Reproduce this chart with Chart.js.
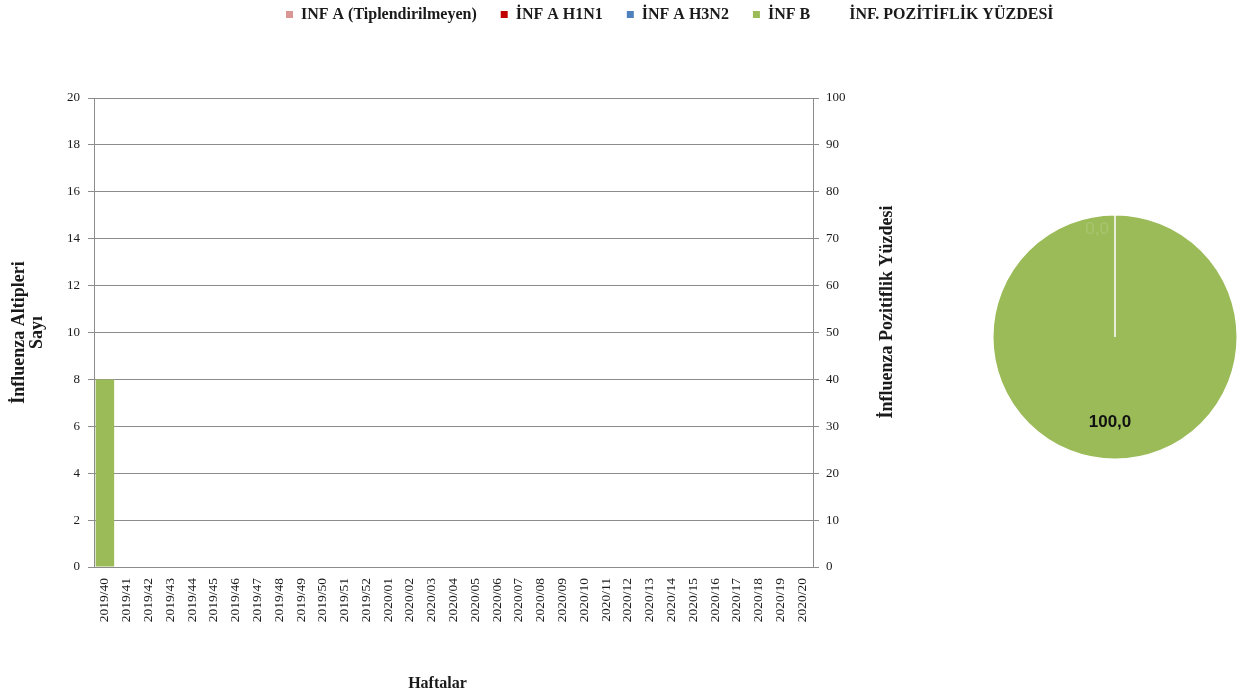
<!DOCTYPE html>
<html lang="tr">
<head>
<meta charset="utf-8">
<script src="https://cdn.jsdelivr.net/npm/chart.js@4.4.1/dist/chart.umd.min.js"></script>
<style>
  html, body { margin: 0; padding: 0; background: #fff; }
  #wrap { position: relative; width: 1244px; height: 695px; overflow: hidden; }
  #main { position: absolute; left: 0; top: 0; }
  #pie { position: absolute; left: 985px; top: 205px; }
</style>
</head>
<body>
<div id="wrap">
  <canvas id="main" width="1244" height="695"></canvas>
  <canvas id="pie" width="260" height="264"></canvas>
</div>
<script>
// Weekly surveillance weeks (2019/40 – 2020/20)
const weeks = [
  '2019/40','2019/41','2019/42','2019/43','2019/44','2019/45','2019/46','2019/47',
  '2019/48','2019/49','2019/50','2019/51','2019/52','2020/01','2020/02','2020/03',
  '2020/04','2020/05','2020/06','2020/07','2020/08','2020/09','2020/10','2020/11',
  '2020/12','2020/13','2020/14','2020/15','2020/16','2020/17','2020/18','2020/19','2020/20'
];

// Subtype counts per week
const infAUntyped = [0,0,0,0,0,0,0,0,0,0,0,0,0,0,0,0,0,0,0,0,0,0,0,0,0,0,0,0,0,0,0,0,0];
const infAH1N1    = [0,0,0,0,0,0,0,0,0,0,0,0,0,0,0,0,0,0,0,0,0,0,0,0,0,0,0,0,0,0,0,0,0];
const infAH3N2    = [0,0,0,0,0,0,0,0,0,0,0,0,0,0,0,0,0,0,0,0,0,0,0,0,0,0,0,0,0,0,0,0,0];
const infB        = [8,0,0,0,0,0,0,0,0,0,0,0,0,0,0,0,0,0,0,0,0,0,0,0,0,0,0,0,0,0,0,0,0];

// Positivity percentage (no plotted values in this period)
const positivity  = [null,null,null,null,null,null,null,null,null,null,null,null,null,null,null,null,null,
                     null,null,null,null,null,null,null,null,null,null,null,null,null,null,null,null];

// Axis tick values
const countTicks   = [0, 2, 4, 6, 8, 10, 12, 14, 16, 18, 20];
const percentTicks = [0, 10, 20, 30, 40, 50, 60, 70, 80, 90, 100];

// Type distribution (percent)
const pieLabels = ['İNF A', 'İNF B'];
const pieValues = [0.0, 100.0];

const SERIF = '"Liberation Serif", "DejaVu Serif", serif';
const GRID = '#8c8c8c';
const TEXT = '#1a1a1a';

const fmt = v => v.toFixed(1).replace('.', ',');

// Places the legend row and draws the rotated right-axis title and the x-axis title
const layoutAndTitles = {
  id: 'layoutAndTitles',
  afterLayout(chart) {
    const lg = chart.legend;
    if (!lg) return;
    const labels = chart.options.plugins.legend.labels;
    const pad = labels.padding;
    const h = lg.height;
    lg.left = 286 - pad;
    lg.right = chart.width;
    lg.top = 14.5 - pad - labels.font.size / 2;
    lg.bottom = lg.top + h;
  },
  afterDraw(chart) {
    const ctx = chart.ctx;
    const y2 = chart.scales.y2;
    const area = chart.chartArea;
    ctx.save();
    ctx.fillStyle = TEXT;
    ctx.font = 'bold 18px ' + SERIF;
    ctx.textAlign = 'center';
    ctx.textBaseline = 'middle';
    ctx.translate(y2.right - 18, 312);
    ctx.rotate(-Math.PI / 2);
    ctx.fillText('İnfluenza Pozitiflik Yüzdesi', 0, 0);
    ctx.restore();

    ctx.save();
    ctx.fillStyle = TEXT;
    ctx.font = 'bold 16px ' + SERIF;
    ctx.textAlign = 'center';
    ctx.textBaseline = 'middle';
    ctx.fillText('Haftalar', (area.left + area.right) / 2 - 16, 684);
    ctx.restore();
  }
};

const mainChart = new Chart(document.getElementById('main'), {
  type: 'bar',
  data: {
    labels: weeks,
    datasets: [
      { label: 'INF A (Tiplendirilmeyen)', data: infAUntyped, backgroundColor: '#D99694', yAxisID: 'y', stack: 'flu' },
      { label: 'İNF A H1N1', data: infAH1N1, backgroundColor: '#C00000', yAxisID: 'y', stack: 'flu' },
      { label: 'İNF A H3N2', data: infAH3N2, backgroundColor: '#4F81BD', yAxisID: 'y', stack: 'flu' },
      { label: 'İNF B', data: infB, backgroundColor: '#9BBB59', yAxisID: 'y', stack: 'flu' },
      { type: 'line', label: 'İNF. POZİTİFLİK YÜZDESİ', data: positivity, yAxisID: 'y2',
        borderColor: 'rgba(0,0,0,0)', backgroundColor: 'rgba(0,0,0,0)', borderWidth: 0,
        pointRadius: 0, spanGaps: false }
    ]
  },
  options: {
    responsive: false,
    animation: false,
    devicePixelRatio: 1,
    categoryPercentage: 0.85,
    barPercentage: 1,
    layout: { padding: { left: 0, right: 339, top: 40, bottom: 0 } },
    plugins: {
      tooltip: { enabled: false },
      legend: {
        position: 'top',
        align: 'start',
        labels: {
          padding: 24,
          boxWidth: 7,
          boxHeight: 7,
          color: TEXT,
          font: { family: SERIF, size: 16, weight: 'bold' }
        }
      }
    },
    scales: {
      x: {
        stacked: true,
        afterFit: s => { s.height = 128; },
        grid: { display: false, drawTicks: false },
        border: { display: true, color: GRID, width: 1 },
        ticks: {
          autoSkip: false, maxRotation: 90, minRotation: 90, padding: 11,
          color: TEXT, font: { family: SERIF, size: 13.5 }
        }
      },
      y: {
        stacked: true,
        position: 'left',
        min: 0, max: 20,
        afterBuildTicks: s => { s.ticks = countTicks.map(v => ({ value: v })); },
        afterFit: s => { s.width = 94; },
        grid: { color: GRID, lineWidth: 1, tickLength: 6, drawTicks: true },
        border: { display: true, color: GRID, width: 1 },
        ticks: { padding: 8, color: TEXT, font: { family: SERIF, size: 13 } },
        title: {
          display: true,
          text: ['İnfluenza Altipleri', 'Sayı'],
          color: TEXT,
          font: { family: SERIF, size: 18, weight: 'bold', lineHeight: 1.0 },
          padding: { top: 10, bottom: 0 }
        }
      },
      y2: {
        position: 'right',
        min: 0, max: 100,
        afterBuildTicks: s => { s.ticks = percentTicks.map(v => ({ value: v })); },
        afterFit: s => { s.width = 92; },
        grid: { drawOnChartArea: false, color: GRID, lineWidth: 1, tickLength: 6, drawTicks: true },
        border: { display: true, color: GRID, width: 1 },
        ticks: { padding: 7, color: TEXT, font: { family: SERIF, size: 13 } }
      }
    }
  },
  plugins: [layoutAndTitles]
});

// Keep the plot area top aligned at y = 98
{
  const diff = 98 - mainChart.chartArea.top;
  if (diff !== 0) {
    mainChart.options.layout.padding.top += diff;
    mainChart.update('none');
  }
}

// Value labels on the pie slices
const pieValueLabels = {
  id: 'pieValueLabels',
  afterDatasetsDraw(chart) {
    const ctx = chart.ctx;
    const meta = chart.getDatasetMeta(0);
    const values = chart.data.datasets[0].data;
    meta.data.forEach((arc, i) => {
      const p = arc.getProps(['x', 'y', 'startAngle', 'endAngle', 'outerRadius'], true);
      const mid = (p.startAngle + p.endAngle) / 2;
      const empty = (p.endAngle - p.startAngle) < 0.01;
      ctx.save();
      ctx.textBaseline = 'middle';
      if (empty) {
        const r = p.outerRadius * 0.88;
        ctx.font = '17px "Liberation Sans", sans-serif';
        ctx.fillStyle = '#A9C56F';
        ctx.textAlign = 'right';
        ctx.fillText(fmt(values[i]), p.x + r * Math.cos(mid) - 6, p.y + r * Math.sin(mid));
      } else {
        const r = p.outerRadius * 0.7;
        ctx.font = 'bold 17px "Liberation Sans", sans-serif';
        ctx.fillStyle = '#111';
        ctx.textAlign = 'center';
        ctx.fillText(fmt(values[i]), p.x + r * Math.cos(mid) - 5, p.y + r * Math.sin(mid));
      }
      ctx.restore();
    });
  }
};

new Chart(document.getElementById('pie'), {
  type: 'pie',
  data: {
    labels: pieLabels,
    datasets: [{
      data: pieValues,
      backgroundColor: ['#C0504D', '#9BBB59'],
      borderColor: '#ffffff',
      borderWidth: 1.5
    }]
  },
  options: {
    responsive: false,
    animation: false,
    devicePixelRatio: 1,
    layout: { padding: 7 },
    plugins: { legend: { display: false }, tooltip: { enabled: false } }
  },
  plugins: [pieValueLabels]
});
</script>
</body>
</html>
